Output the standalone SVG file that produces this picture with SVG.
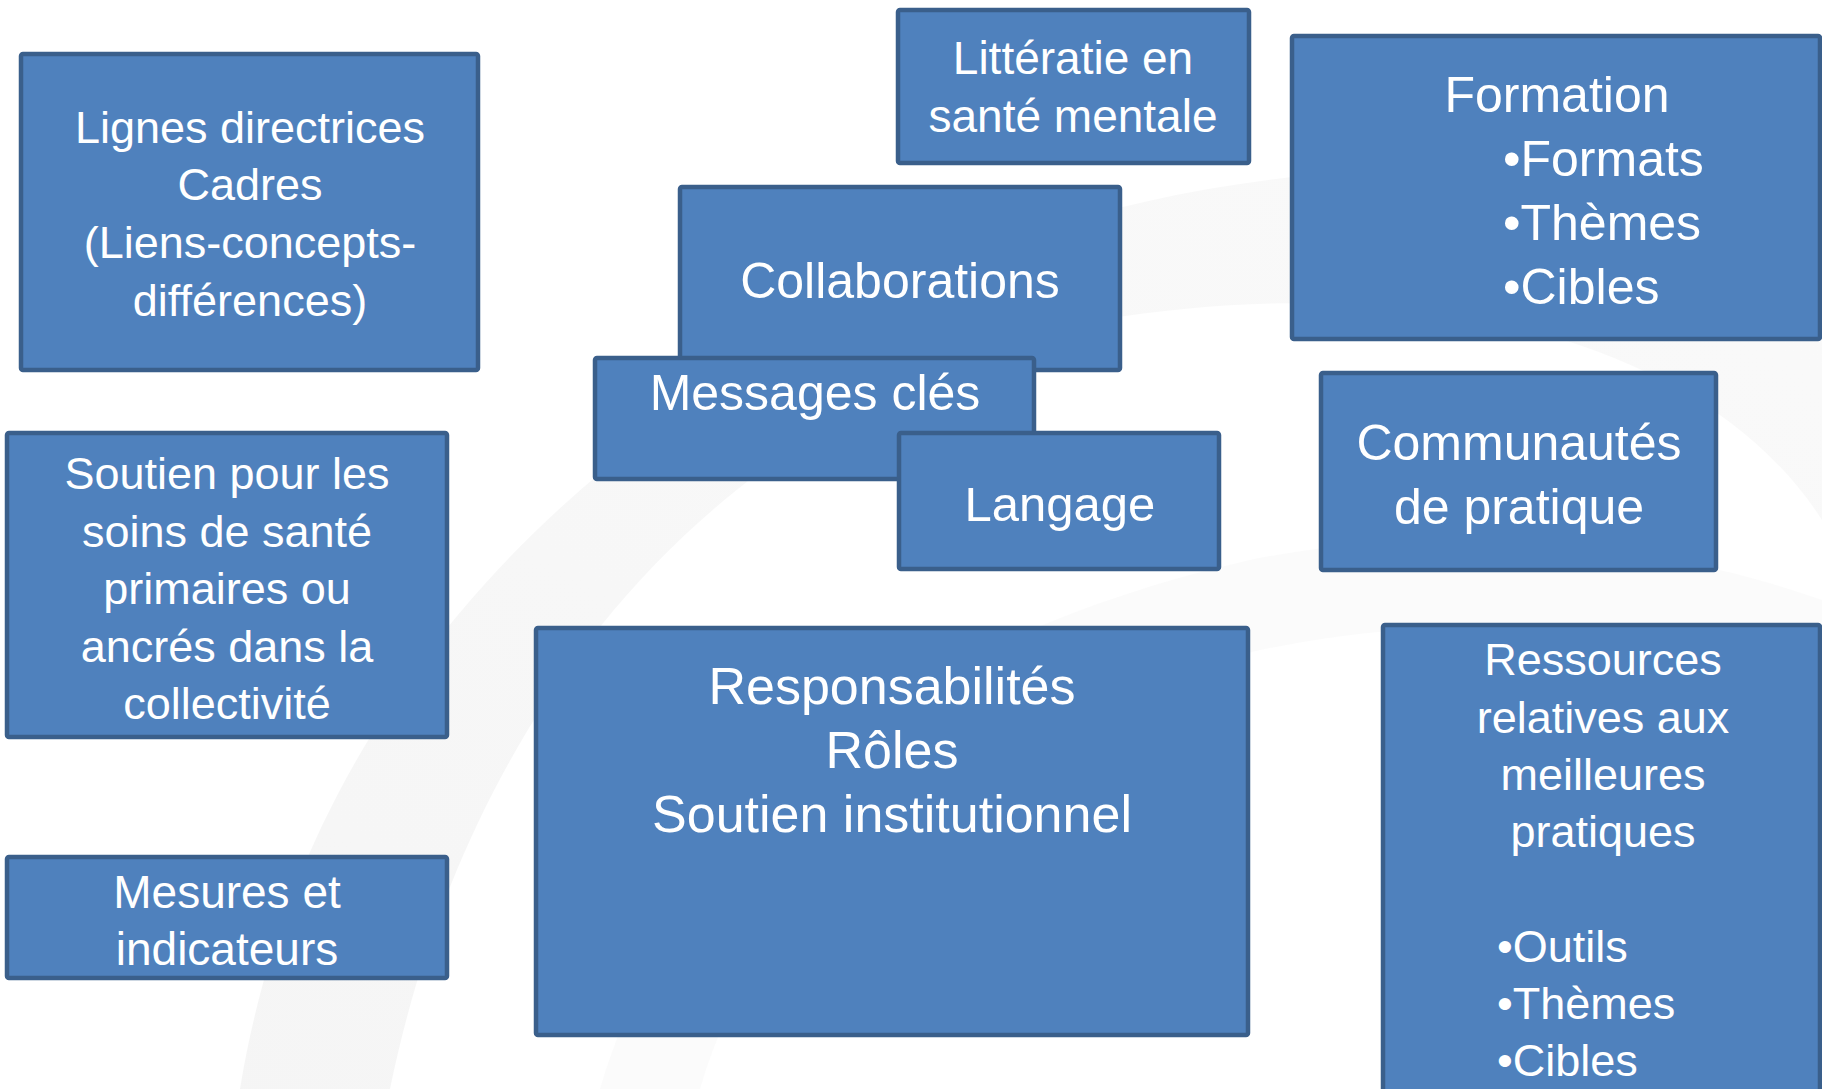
<svg xmlns="http://www.w3.org/2000/svg" width="1822" height="1089" viewBox="0 0 1822 1089">
  <style>
    .box { fill: #4F81BD; stroke: #3A5F8B; stroke-width: 4.5; }
    .t { font-family: "Liberation Sans", Arial, sans-serif; fill: #FFFFFF; text-anchor: middle; }
    .tl { font-family: "Liberation Sans", Arial, sans-serif; fill: #FFFFFF; text-anchor: start; }
  </style>
  <defs>
    <linearGradient id="sw" x1="0" y1="1" x2="1" y2="0">
      <stop offset="0" stop-color="#F1F1F1"/>
      <stop offset="0.6" stop-color="#F5F5F5"/>
      <stop offset="1" stop-color="#F7F7F7"/>
    </linearGradient>
  </defs>
  <rect x="0" y="0" width="1822" height="1089" fill="#FFFFFF"/>
  <g id="background">
    <path d="M 240,1089 C 300,720 560,420 980,250 C 1280,140 1600,150 1822,230 L 1822,520 C 1700,330 1400,270 1100,320 C 720,400 470,700 390,1089 Z" fill="url(#sw)" opacity="0.7"/>
    <path d="M 600,1089 C 680,820 900,640 1250,560 C 1450,520 1650,540 1822,600 L 1822,700 C 1650,620 1450,610 1260,650 C 950,720 760,880 700,1089 Z" fill="#F7F7F7" opacity="0.5"/>
  </g>
  <g id="connectors"></g>

  <g id="node-lignes">
    <rect class="box" x="21" y="54" width="457" height="316" rx="2"/>
    <text class="t" font-size="45" x="250" y="143">Lignes directrices</text>
    <text class="t" font-size="45" x="250" y="200">Cadres</text>
    <text class="t" font-size="45" x="250" y="258">(Liens-concepts-</text>
    <text class="t" font-size="45" x="250" y="316">différences)</text>
  </g>

  <g id="node-litteratie">
    <rect class="box" x="898" y="10" width="351" height="153" rx="2"/>
    <text class="t" font-size="46" x="1073" y="74">Littératie en</text>
    <text class="t" font-size="46" x="1073" y="132">santé mentale</text>
  </g>

  <g id="node-collaborations">
    <rect class="box" x="680" y="187" width="440" height="183" rx="2"/>
    <text class="t" font-size="50" x="900" y="298">Collaborations</text>
  </g>

  <g id="node-messages">
    <rect class="box" x="595" y="358" width="439" height="121" rx="2"/>
    <text class="t" font-size="50" x="815" y="410">Messages clés</text>
  </g>

  <g id="node-langage">
    <rect class="box" x="899" y="433" width="320" height="136" rx="2"/>
    <text class="t" font-size="49" x="1060" y="521">Langage</text>
  </g>

  <g id="node-formation">
    <rect class="box" x="1292" y="36" width="528" height="303" rx="2"/>
    <text class="t" font-size="50" x="1557" y="112">Formation</text>
    <text class="tl" font-size="50" x="1503" y="176">•Formats</text>
    <text class="tl" font-size="50" x="1503" y="240">•Thèmes</text>
    <text class="tl" font-size="50" x="1503" y="304">•Cibles</text>
  </g>

  <g id="node-communautes">
    <rect class="box" x="1321" y="373" width="395" height="197" rx="2"/>
    <text class="t" font-size="50" x="1519" y="460">Communautés</text>
    <text class="t" font-size="50" x="1519" y="524">de pratique</text>
  </g>

  <g id="node-soutien">
    <rect class="box" x="7" y="433" width="440" height="304" rx="2"/>
    <text class="t" font-size="45" x="227" y="489">Soutien pour les</text>
    <text class="t" font-size="45" x="227" y="547">soins de santé</text>
    <text class="t" font-size="45" x="227" y="604">primaires ou</text>
    <text class="t" font-size="45" x="227" y="662">ancrés dans la</text>
    <text class="t" font-size="45" x="227" y="719">collectivité</text>
  </g>

  <g id="node-mesures">
    <rect class="box" x="7" y="857" width="440" height="121" rx="2"/>
    <text class="t" font-size="46" x="227" y="908">Mesures et</text>
    <text class="t" font-size="46" x="227" y="965">indicateurs</text>
  </g>

  <g id="node-responsabilites">
    <rect class="box" x="536" y="628" width="712" height="407" rx="2"/>
    <text class="t" font-size="52" x="892" y="704">Responsabilités</text>
    <text class="t" font-size="52" x="892" y="768">Rôles</text>
    <text class="t" font-size="52" x="892" y="832">Soutien institutionnel</text>
  </g>

  <g id="node-ressources">
    <rect class="box" x="1383" y="625" width="437" height="470" rx="2"/>
    <text class="t" font-size="45" x="1603" y="675">Ressources</text>
    <text class="t" font-size="45" x="1603" y="733">relatives aux</text>
    <text class="t" font-size="45" x="1603" y="790">meilleures</text>
    <text class="t" font-size="45" x="1603" y="847">pratiques</text>
    <text class="tl" font-size="45" x="1497" y="962">•Outils</text>
    <text class="tl" font-size="45" x="1497" y="1019">•Thèmes</text>
    <text class="tl" font-size="45" x="1497" y="1076">•Cibles</text>
  </g>
</svg>
